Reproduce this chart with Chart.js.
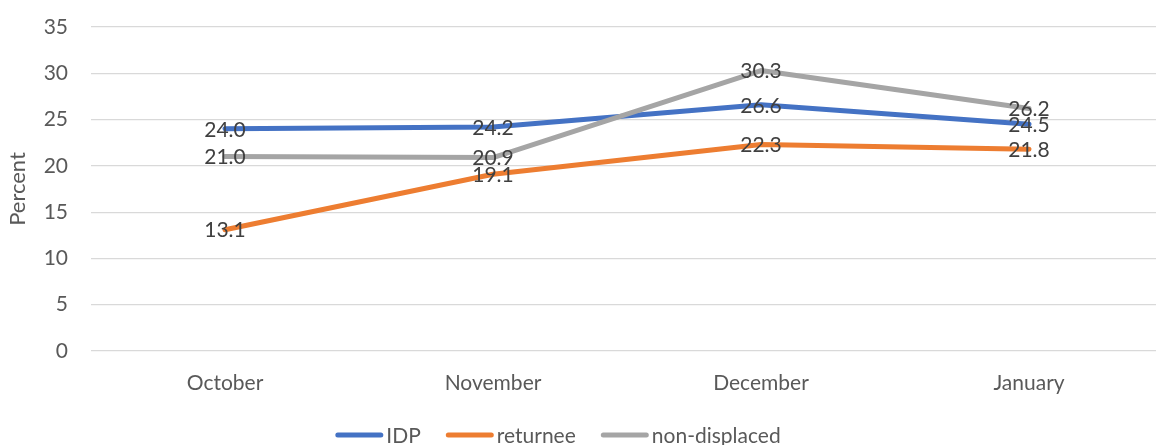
<!DOCTYPE html>
<html>
<head>
<meta charset="utf-8">
<script src="https://cdn.jsdelivr.net/npm/chart.js@4/dist/chart.umd.min.js"></script>
<style>
  html, body { margin: 0; padding: 0; background: #ffffff; overflow: hidden; }
  #wrap { width: 1180px; height: 445px; }
</style>
</head>
<body>
<div id="wrap"><canvas id="c" width="1180" height="445"></canvas></div>
<script>
// Monthly shares (percent) by displacement status
const months = ['October', 'November', 'December', 'January'];
const idp = [24.0, 24.2, 26.6, 24.5];
const returnee = [13.1, 19.1, 22.3, 21.8];
const nonDisplaced = [21.0, 20.9, 30.3, 26.2];
const yTicks = [0, 5, 10, 15, 20, 25, 30, 35];

const FONT = 'Lato, "Open Sans", sans-serif';
const TEXT_GREY = '#595959';
const LABEL_DARK = '#404040';

// Value labels centred on each point
const valueLabels = {
  id: 'valueLabels',
  afterDatasetsDraw(chart) {
    const ctx = chart.ctx;
    ctx.save();
    ctx.font = '21px ' + FONT;
    ctx.fillStyle = LABEL_DARK;
    ctx.textAlign = 'center';
    ctx.textBaseline = 'middle';
    chart.data.datasets.forEach((ds, i) => {
      const meta = chart.getDatasetMeta(i);
      meta.data.forEach((pt, j) => {
        ctx.fillText(ds.data[j].toFixed(1), pt.x, pt.y + 1);
      });
    });
    ctx.restore();
  }
};

// Legend row below the category labels: short line swatch, then name
const lineLegend = {
  id: 'lineLegend',
  afterDraw(chart) {
    const ctx = chart.ctx;
    const sw = 48, gapText = 3, gapItem = 25, y = 435;
    ctx.save();
    ctx.font = '21px ' + FONT;
    const items = chart.data.datasets.map(ds => ({
      label: ds.label, color: ds.borderColor, w: ctx.measureText(ds.label).width
    }));
    const total = items.reduce((s, it) => s + sw + gapText + it.w, 0) + gapItem * (items.length - 1);
    let x = 558 - total / 2;
    items.forEach(it => {
      ctx.strokeStyle = it.color;
      ctx.lineWidth = 5;
      ctx.lineCap = 'round';
      ctx.beginPath();
      ctx.moveTo(x + 2.5, y);
      ctx.lineTo(x + sw - 2.5, y);
      ctx.stroke();
      ctx.fillStyle = TEXT_GREY;
      ctx.textAlign = 'left';
      ctx.textBaseline = 'middle';
      ctx.fillText(it.label, x + sw + gapText, y + 1);
      x += sw + gapText + it.w + gapItem;
    });
    ctx.restore();
  }
};

const lineStyle = {
  borderWidth: 5,
  pointRadius: 0,
  pointHoverRadius: 0,
  tension: 0,
  borderCapStyle: 'round',
  borderJoinStyle: 'round',
  fill: false
};

new Chart(document.getElementById('c'), {
  type: 'line',
  data: {
    labels: months,
    datasets: [
      Object.assign({ label: 'IDP', data: idp, borderColor: '#4472C4', backgroundColor: '#4472C4', order: 2 }, lineStyle),
      Object.assign({ label: 'returnee', data: returnee, borderColor: '#ED7D31', backgroundColor: '#ED7D31', order: 1 }, lineStyle),
      Object.assign({ label: 'non-displaced', data: nonDisplaced, borderColor: '#A5A5A5', backgroundColor: '#A5A5A5', order: 0 }, lineStyle)
    ]
  },
  options: {
    responsive: false,
    devicePixelRatio: 1,
    animation: false,
    layout: { padding: { top: 27, right: 17, left: 0, bottom: 0 } },
    plugins: {
      legend: { display: false },
      tooltip: { enabled: false }
    },
    scales: {
      x: {
        offset: true,
        grid: { display: false },
        border: { display: false },
        ticks: { color: TEXT_GREY, font: { family: FONT, size: 21 }, padding: 12, maxRotation: 0 },
        afterFit(scale) { scale.height = 94; }
      },
      y: {
        min: 0,
        max: 35,
        afterBuildTicks(scale) { scale.ticks = yTicks.map(v => ({ value: v })); },
        grid: { color: '#D9D9D9', lineWidth: 1.2, drawTicks: false },
        border: { display: false },
        ticks: { color: TEXT_GREY, font: { family: FONT, size: 21 }, padding: 23 },
        title: {
          display: true,
          text: 'Percent',
          color: TEXT_GREY,
          font: { family: FONT, size: 22 },
          padding: { top: 5, bottom: 0 }
        },
        afterFit(scale) {
          scale.width = 91;
          scale.paddingTop = 0;
          scale.paddingBottom = 0;
        }
      }
    }
  },
  plugins: [valueLabels, lineLegend]
});
</script>
</body>
</html>
